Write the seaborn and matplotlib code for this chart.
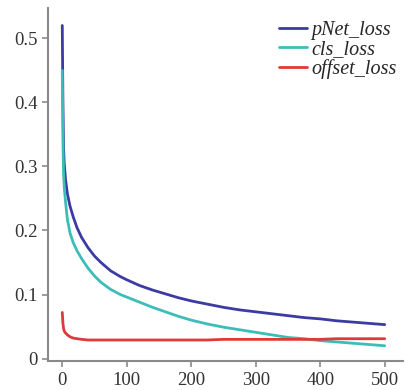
import pandas as pd
import matplotlib
matplotlib.use("Agg")
import matplotlib.pyplot as plt
import seaborn as sns

# epochs sampled along the curves
epochs = [0, 1, 2, 3, 5, 8, 12, 17, 23, 30, 40, 50, 60, 75, 90, 100, 120, 140,
          160, 180, 200, 225, 250, 275, 300, 325, 350, 375, 400, 425, 450, 475, 500]

pnet_loss = [0.52, 0.40, 0.33, 0.305, 0.28, 0.257, 0.238, 0.221, 0.204, 0.189, 0.173,
             0.160, 0.150, 0.137, 0.128, 0.123, 0.114, 0.107, 0.101, 0.095, 0.090,
             0.085, 0.080, 0.076, 0.073, 0.070, 0.067, 0.064, 0.062, 0.059, 0.057,
             0.055, 0.053]
cls_loss = [0.45, 0.34, 0.29, 0.268, 0.245, 0.217, 0.196, 0.181, 0.168, 0.156, 0.141,
            0.129, 0.119, 0.108, 0.100, 0.096, 0.088, 0.080, 0.073, 0.066, 0.060,
            0.054, 0.049, 0.045, 0.041, 0.037, 0.033, 0.031, 0.028, 0.026, 0.024,
            0.022, 0.020]
offset_loss = [0.072, 0.055, 0.047, 0.043, 0.040, 0.037, 0.034, 0.032, 0.031, 0.030,
               0.029, 0.029, 0.029, 0.029, 0.029, 0.029, 0.029, 0.029, 0.029, 0.029,
               0.029, 0.029, 0.030, 0.030, 0.030, 0.030, 0.030, 0.030, 0.030, 0.031,
               0.031, 0.031, 0.031]

series_names = ["pNet_loss", "cls_loss", "offset_loss"]
colors = ["#3b3ba3", "#3cbdb8", "#e0393b"]

df = pd.DataFrame({"epoch": epochs, "pNet_loss": pnet_loss,
                   "cls_loss": cls_loss, "offset_loss": offset_loss})
long = df.melt(id_vars="epoch", var_name="series", value_name="loss")

sns.set_style("ticks")
plt.rcParams["font.family"] = ["Liberation Serif", "DejaVu Serif"]

fig = plt.figure(figsize=(4.11, 3.9), dpi=100)
ax = fig.add_axes([0.117, 0.074, 0.863, 0.905])

sns.lineplot(data=long, x="epoch", y="loss", hue="series", hue_order=series_names,
             palette=colors, linewidth=2, ax=ax)

ax.set_xlim(-22, 528)
ax.set_ylim(-0.004, 0.547)
ax.set_xticks([0, 100, 200, 300, 400, 500])
ax.set_yticks([0, 0.1, 0.2, 0.3, 0.4, 0.5])
ax.set_yticklabels(["0", "0.1", "0.2", "0.3", "0.4", "0.5"])
ax.set_xlabel("")
ax.set_ylabel("")
ax.tick_params(labelsize=13.5, colors="#333333", length=4, width=1.2)
ax.tick_params(axis="both", color="#8a8a8a")
for side in ["left", "bottom"]:
    ax.spines[side].set_color("#8a8a8a")
    ax.spines[side].set_linewidth(1.5)
sns.despine(ax=ax)

leg = ax.legend(loc="upper right", bbox_to_anchor=(1.005, 0.988), frameon=False,
                prop={"style": "italic", "size": 14.5}, handlelength=1.4,
                handletextpad=0.2, labelspacing=0.02, borderaxespad=0.0)

fig.savefig("out.png", dpi=100)
